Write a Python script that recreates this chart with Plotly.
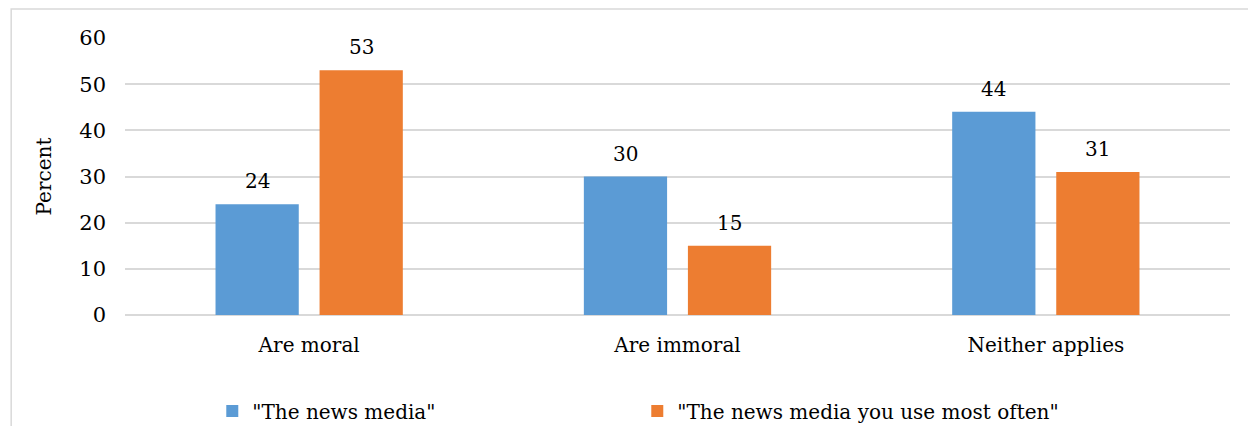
import plotly.graph_objects as go

categories = ["Are moral", "Are immoral", "Neither applies"]
series_names = ['"The news media"', '"The news media you use most often"']
news_media = [24, 30, 44]
news_media_most_often = [53, 15, 31]
colors = ["#5B9BD5", "#ED7D31"]
y_ticks = [0, 10, 20, 30, 40, 50, 60]

FONT = "DejaVu Serif"
FS = 20

fig = go.Figure()
for name, vals, col in zip(series_names, [news_media, news_media_most_often], colors):
    fig.add_trace(go.Bar(x=categories, y=vals, name=name, marker=dict(color=col, line=dict(width=0))))

annotations = []
for vals, shift in zip([news_media, news_media_most_often], [-52, 52]):
    for c, v in zip(categories, vals):
        annotations.append(dict(x=c, y=v, xref="x", yref="y", text=str(v), showarrow=False,
                                xshift=shift, yshift=23, yanchor="middle",
                                font=dict(family=FONT, size=FS, color="#000")))

fig.update_layout(
    width=1248, height=426,
    margin=dict(l=125, r=18, t=38, b=111, autoexpand=False),
    paper_bgcolor="white", plot_bgcolor="white",
    font=dict(family=FONT, size=FS, color="#000"),
    barmode="group", bargap=0.435, bargroupgap=0.2,
    showlegend=True,
    legend=dict(orientation="h", x=0.4636, xanchor="center", y=-0.347, yanchor="middle",
                entrywidth=380, font=dict(family=FONT, size=FS, color="#000")),
    annotations=annotations,
    shapes=[dict(type="rect", xref="paper", yref="paper", x0=-0.103, x1=1.05, y0=-0.6, y1=1.105,
                 line=dict(color="#d9d9d9", width=1.5), fillcolor="rgba(0,0,0,0)", layer="below")],
)
fig.update_xaxes(showline=False, ticks="", ticklabelstandoff=16, automargin=False,
                 tickfont=dict(family=FONT, size=FS, color="#000"))
fig.update_yaxes(range=[0, 60], tickvals=y_ticks, showgrid=True, gridcolor="#d9d9d9", gridwidth=1.5,
                 zeroline=True, zerolinecolor="#d9d9d9", zerolinewidth=1.5,
                 ticks="", ticklabelstandoff=18, automargin=False,
                 title=dict(text="Percent", standoff=22, font=dict(family=FONT, size=FS, color="#000")),
                 tickfont=dict(family=FONT, size=21, color="#000"))

fig.write_html("out.html", config={"displayModeBar": False},
               post_script="document.body.style.margin='0';document.body.style.overflow='hidden';")
